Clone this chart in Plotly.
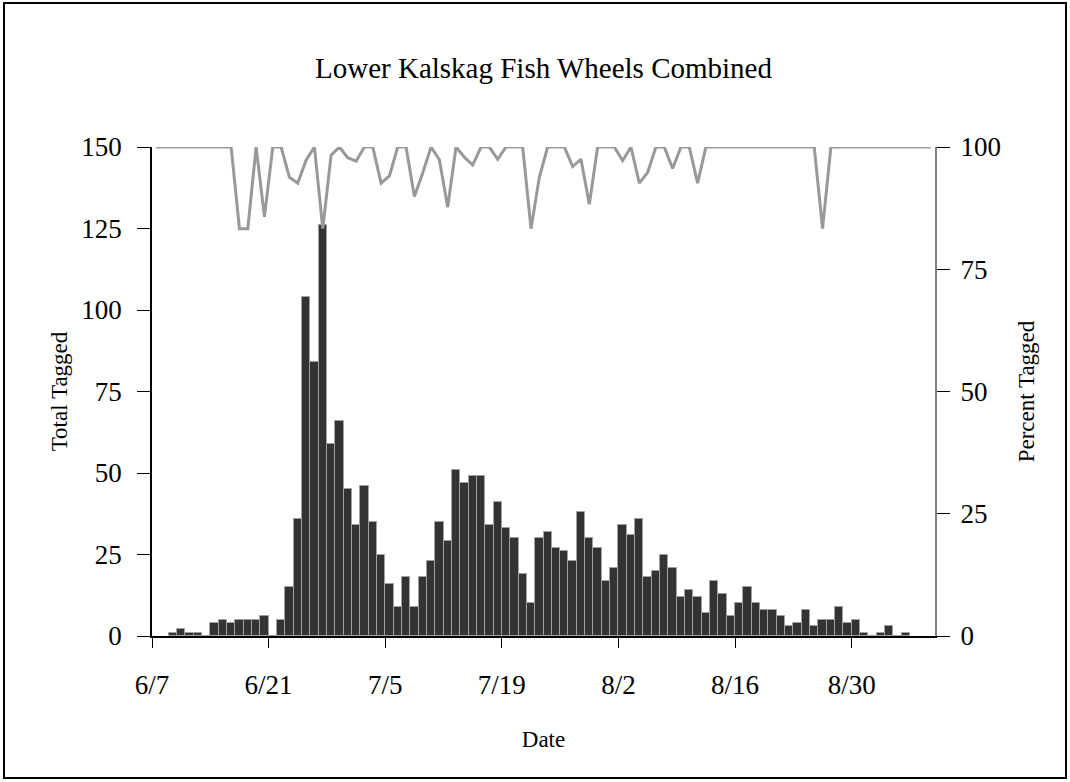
import pandas as pd
import plotly.graph_objects as go

# ---- data ----
title_text = "Lower Kalskag Fish Wheels Combined"
bar_dates = pd.date_range("2007-06-09", periods=89).strftime("%Y-%m-%d").tolist()
total_tagged = [1, 2, 1, 1, 0, 4, 5, 4, 5, 5, 5, 6,
                0, 5, 15, 36, 104, 84, 126, 59, 66, 45,
                34, 46, 35, 25, 16, 9, 18, 9, 18, 23,
                35, 29, 51, 47, 49, 49, 34, 41, 33, 30,
                19, 10, 30, 32, 27, 26, 23, 38, 30, 27,
                17, 21, 34, 31, 36, 18, 20, 25, 21, 12,
                14, 12, 7, 17, 13, 6, 10, 15, 10, 8,
                8, 6, 3, 4, 8, 3, 5, 5, 9, 4,
                5, 1, 0, 1, 3, 0, 1]

line_dates = pd.date_range("2007-06-07", periods=94).strftime("%Y-%m-%d").tolist()
percent_tagged = [100, 100, 100, 100, 100, 100, 100, 100, 100, 100,
                  83.3, 83.3, 100, 85.7, 100, 100, 93.8, 92.6, 97.3, 100,
                  83.3, 98.3, 100, 97.8, 97.1, 100, 100, 92.6, 94.1, 100,
                  100, 89.9, 94.7, 100, 97.4, 87.7, 100, 97.9, 96.3, 100,
                  100, 97.5, 100, 100, 100, 83.3, 93.8, 100, 100, 100,
                  96.0, 97.5, 88.3, 100, 100, 100, 97.2, 100, 92.6, 94.8,
                  100, 100, 95.6, 100, 100, 92.6, 100, 100, 100, 100,
                  100, 100, 100, 100, 100, 100, 100, 100, 100, 100,
                  83.3, 100, 100, 100, 100, 100, 100, 100, 100, 100,
                  100, 100, 100, 100]

left_ticks = [0, 25, 50, 75, 100, 125, 150]
right_ticks = [0, 25, 50, 75, 100]
x_start, x_end = "2007-06-07", "2007-09-09"

# ---- layout constants ----
W, H = 1070, 782
ML, MR, MT, MB = 152, 135, 147, 146
PW, PH = W - ML - MR, H - MT - MB
FONT = "Liberation Serif, Times New Roman, serif"
DAY = 86400000

fig = go.Figure()
fig.add_trace(go.Bar(
    x=bar_dates, y=total_tagged,
    xperiod=DAY, xperiodalignment="middle",
    marker=dict(color="#333333", line=dict(color="#a0a0a0", width=1)),
    name="Total Tagged", yaxis="y",
))
fig.add_trace(go.Scatter(
    x=line_dates, y=percent_tagged,
    xperiod=DAY, xperiodalignment="middle",
    mode="lines", line=dict(color="#999999", width=3),
    name="Percent Tagged", yaxis="y2",
))

def px_to_paper_x(px):
    return (px - ML) / PW

def px_to_paper_y(py):
    return (H - MB - py) / PH

fig.update_layout(
    width=W, height=H,
    margin=dict(l=ML, r=MR, t=MT, b=MB),
    paper_bgcolor="white", plot_bgcolor="white",
    showlegend=False,
    bargap=0,
    font=dict(family=FONT, color="black", size=27),
    title=dict(text=title_text, x=0.5, xref="paper", xanchor="center",
               y=1 - 68 / H, yanchor="middle",
               font=dict(family=FONT, size=29, color="black")),
    xaxis=dict(
        type="date", range=[x_start, x_end],
        tick0=x_start, dtick=14 * DAY, tickformat="%-m/%-d",
        ticks="outside", ticklen=10, tickcolor="black", tickwidth=1.2,
        showline=True, linecolor="black", linewidth=1.5,
        showgrid=False, zeroline=False,
        tickfont=dict(size=27), ticklabelstandoff=14,
        title=dict(text="Date", font=dict(size=23), standoff=32),
    ),
    yaxis=dict(
        range=[0, 150], tickvals=left_ticks,
        ticks="outside", ticklen=13, tickcolor="black", tickwidth=1.2,
        showline=True, linecolor="black", linewidth=1.5,
        showgrid=False, zeroline=False,
        tickfont=dict(size=27), ticklabelstandoff=10,
        title=dict(text="Total Tagged", font=dict(size=23), standoff=7),
    ),
    yaxis2=dict(
        overlaying="y", side="right",
        range=[0, 100], tickvals=right_ticks,
        ticks="outside", ticklen=13, tickcolor="black", tickwidth=1.2,
        showline=True, linecolor="#808080", linewidth=2,
        showgrid=False, zeroline=False,
        tickfont=dict(size=27), ticklabelstandoff=5,
        title=dict(text="Percent Tagged", font=dict(size=23), standoff=18),
    ),
    shapes=[dict(
        type="rect", xref="paper", yref="paper",
        x0=px_to_paper_x(4), x1=px_to_paper_x(1066),
        y0=px_to_paper_y(778), y1=px_to_paper_y(3),
        line=dict(color="black", width=2), fillcolor="rgba(0,0,0,0)",
        layer="below",
    )],
)

fig.write_html("out.html", config={"displayModeBar": False},
               post_script="document.body.style.margin='0';")
